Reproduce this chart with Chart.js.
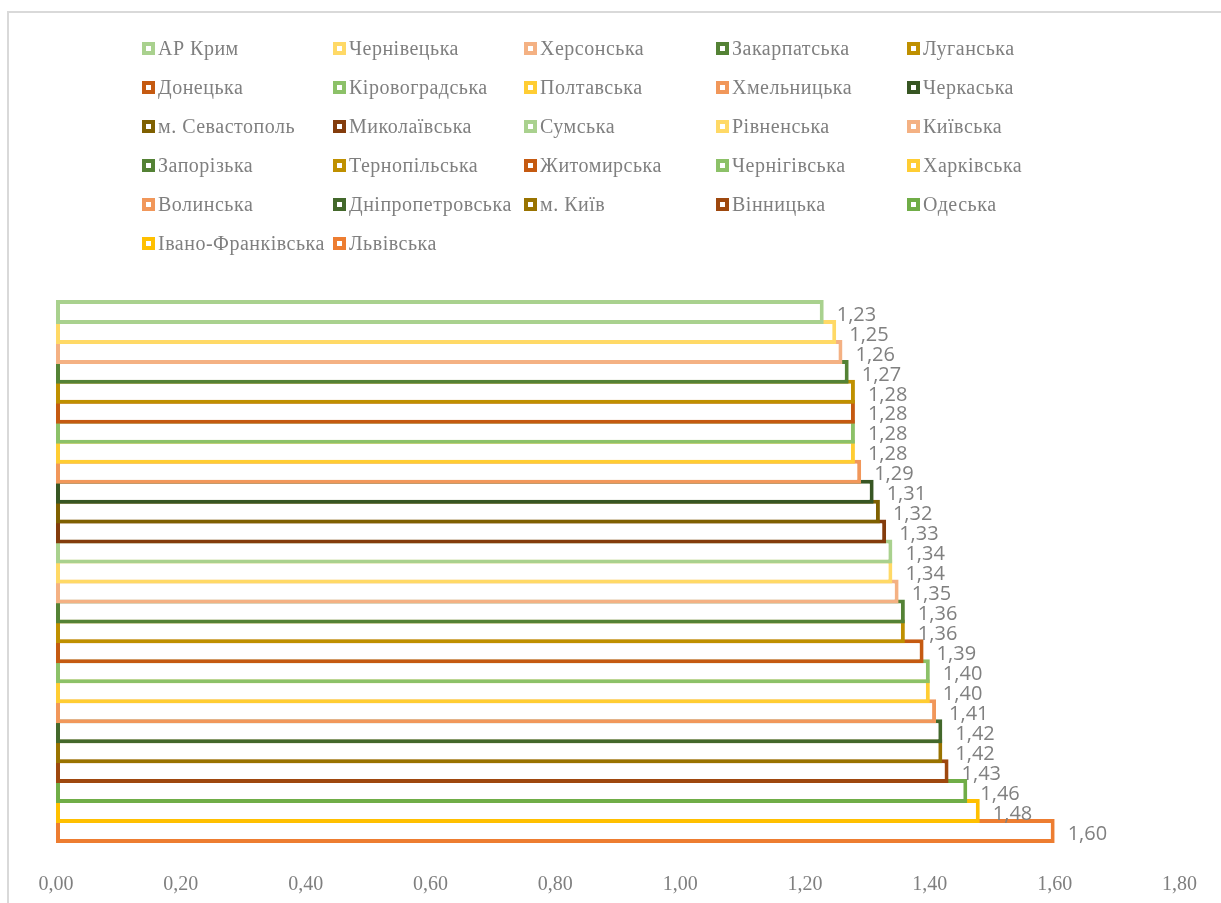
<!DOCTYPE html>
<html>
<head>
<meta charset="utf-8">
<title>Регіони</title>
<script src="https://cdn.jsdelivr.net/npm/chart.js@4.4.1/dist/chart.umd.min.js"></script>
<style>
  html, body { margin: 0; padding: 0; background: #fff; overflow: hidden; }
  #wrap { position: relative; width: 1221px; height: 903px; }
  #frame { position: absolute; left: 7px; top: 11px; width: 1400px; height: 1000px;
           border-top: 2px solid #d9d9d9; border-left: 2px solid #d9d9d9; }
  canvas { position: absolute; left: 0; top: 0; }
  #legend { position: absolute; left: 0; top: 0; }
  .item { position: absolute; display: flex; align-items: center; height: 39px;
          font-family: "Liberation Serif", "Times New Roman", serif; font-size: 20px;
          letter-spacing: 0.5px; color: #7f7f7f; white-space: nowrap; }
  .mk { width: 5px; height: 5px; border: 4px solid; background: #fff; margin-right: 3px; flex: none; }
</style>
</head>
<body>
<div id="wrap">
  <div id="frame"></div>
  <canvas id="chart" width="1221" height="903"></canvas>
  <div id="legend"></div>
</div>
<script>
// Regions, top to bottom
const regions = [
  'АР Крим', 'Чернівецька', 'Херсонська', 'Закарпатська', 'Луганська',
  'Донецька', 'Кіровоградська', 'Полтавська', 'Хмельницька', 'Черкаська',
  'м. Севастополь', 'Миколаївська', 'Сумська', 'Рівненська', 'Київська',
  'Запорізька', 'Тернопільська', 'Житомирська', 'Чернігівська', 'Харківська',
  'Волинська', 'Дніпропетровська', 'м. Київ', 'Вінницька', 'Одеська',
  'Івано-Франківська', 'Львівська'
];

const values = [
  1.23, 1.25, 1.26, 1.27, 1.28,
  1.28, 1.28, 1.28, 1.29, 1.31,
  1.32, 1.33, 1.34, 1.34, 1.35,
  1.36, 1.36, 1.39, 1.40, 1.40,
  1.41, 1.42, 1.42, 1.43, 1.46,
  1.48, 1.60
];

const outlineColors = [
  '#a9d18e', '#ffd966', '#f4b183',
  '#548235', '#bf9000', '#c55a11',
  '#8cc168', '#ffcd33', '#f1975a',
  '#375623', '#7f6000', '#843c0c',
  '#a9d18e', '#ffd966', '#f4b183',
  '#548235', '#bf9000', '#c55a11',
  '#8cc168', '#ffcd33', '#f1975a',
  '#43682b', '#997300', '#9e480e',
  '#70ad47', '#ffc000', '#ed7d31'
];

const axisMin = 0;
const axisMax = 1.8;
const axisStep = 0.2;

const fmt = v => v.toFixed(2).replace('.', ',');
const GRAY = '#7f7f7f';

// Value labels to the right of each bar
const valueLabels = {
  id: 'valueLabels',
  afterDatasetsDraw(chart) {
    const ctx = chart.ctx;
    ctx.save();
    ctx.font = '20px "Open Sans", sans-serif';
    ctx.fillStyle = '#808080';
    ctx.textAlign = 'left';
    ctx.textBaseline = 'middle';
    chart.data.datasets.forEach((ds, i) => {
      const meta = chart.getDatasetMeta(i);
      meta.data.forEach((bar, j) => {
        ctx.fillText(fmt(ds.data[j]), bar.x + 13, bar.y + 3);
      });
    });
    ctx.restore();
  }
};

// Five-column legend built from the chart's own legend items
const columnLefts = [142, 333, 524, 716, 907];
const htmlLegend = {
  id: 'htmlLegend',
  afterUpdate(chart) {
    const box = document.getElementById('legend');
    box.innerHTML = '';
    const items = Chart.defaults.plugins.legend.labels.generateLabels(chart);
    items.forEach((it, k) => {
      const col = k % 5, row = Math.floor(k / 5);
      const el = document.createElement('div');
      el.className = 'item';
      el.style.left = columnLefts[col] + 'px';
      el.style.top = (28.5 + row * 39) + 'px';
      const mk = document.createElement('span');
      mk.className = 'mk';
      mk.style.borderColor = it.strokeStyle;
      const tx = document.createElement('span');
      tx.textContent = it.text;
      el.appendChild(mk);
      el.appendChild(tx);
      box.appendChild(el);
    });
  }
};

new Chart(document.getElementById('chart'), {
  type: 'bar',
  data: {
    labels: [''],
    datasets: regions.map((name, i) => ({
      label: name,
      data: [values[i]],
      borderColor: outlineColors[i],
      backgroundColor: '#ffffff',
      borderWidth: 4,
      borderSkipped: false,
      categoryPercentage: 1,
      barPercentage: 1.2,
      clip: false
    }))
  },
  options: {
    indexAxis: 'y',
    responsive: false,
    animation: false,
    devicePixelRatio: 1,
    layout: { padding: { left: 56, right: 32, top: 302, bottom: 7 } },
    plugins: {
      legend: { display: false },
      tooltip: { enabled: false }
    },
    scales: {
      x: {
        min: axisMin,
        max: axisMax,
        grid: { display: false },
        border: { display: false },
        afterFit(scale) { scale.height = 55; },
        ticks: {
          stepSize: axisStep,
          padding: 24,
          maxRotation: 0,
          color: GRAY,
          font: { family: '"Liberation Serif", serif', size: 20 },
          callback: v => fmt(v)
        }
      },
      y: { display: false }
    }
  },
  plugins: [valueLabels, htmlLegend]
});
</script>
</body>
</html>
